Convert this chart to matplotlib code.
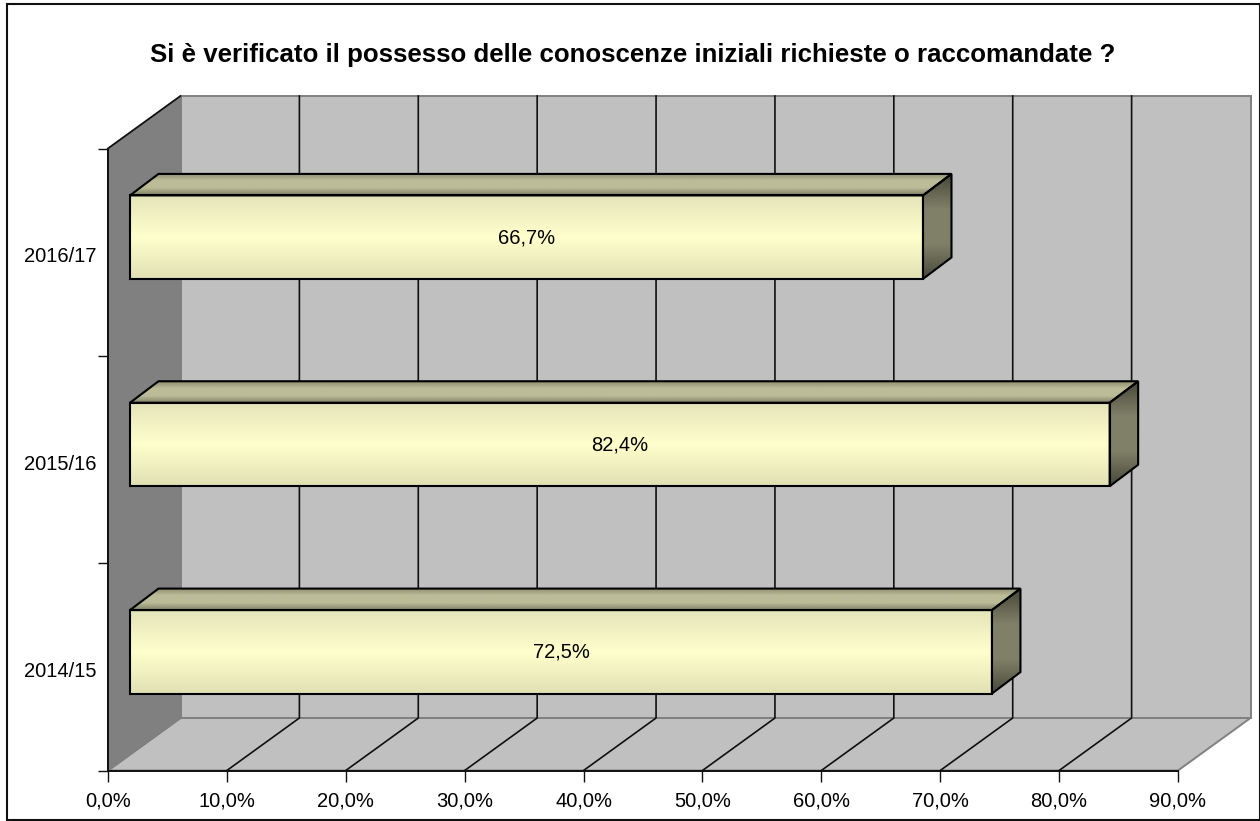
import matplotlib
matplotlib.use("Agg")
import matplotlib.pyplot as plt
from matplotlib.colors import LinearSegmentedColormap
from matplotlib.patches import Polygon, Rectangle
from matplotlib.transforms import ScaledTranslation
import numpy as np

plt.rcParams['font.family'] = ['Liberation Sans', 'DejaVu Sans']

# data
years = ['2014/15', '2015/16', '2016/17']
values = [72.5, 82.4, 66.7]
xticks = [0, 10, 20, 30, 40, 50, 60, 70, 80, 90]
title = 'Si è verificato il possesso delle conoscenze iniziali richieste o raccomandate ?'

W, H = 1260, 821
fig = plt.figure(figsize=(W / 100, H / 100), dpi=100)

# axes box = front face of the fake 3d box
ax = fig.add_axes([108 / W, (H - 770.5) / H, (1178 - 108) / W, (770.5 - 148.5) / H])
ax.set_xlim(0, 90)
ax.set_ylim(-0.5, 2.5)
ax.patch.set_visible(False)

# depth of the box and of the bars, in data units
px_x = 1070 / 90
px_y = 622 / 3
dx = 72.5 / px_x
dy = 52.5 / px_y
bar_off_x = 22 / px_x
bar_off_y = 15 / px_y
bar_dx = 28.5 / px_x
bar_dy = 21.5 / px_y
bar_h = 83.5 / px_y

# outer border
fig.add_artist(Rectangle((6.5 / W, 1 / H), 1253 / W, 816 / H, transform=fig.transFigure,
                         fill=False, ec='#101010', lw=1.5))

# walls
wall = '#c0c0c0'
ax.add_patch(Polygon([(dx, -0.5 + dy), (90 + dx, -0.5 + dy), (90 + dx, 2.5 + dy), (dx, 2.5 + dy)],
                     fc=wall, ec='#808080', lw=1.4, clip_on=False, zorder=1))
ax.add_patch(Polygon([(0, -0.5), (90, -0.5), (90 + dx, -0.5 + dy), (dx, -0.5 + dy)],
                     fc=wall, ec='#808080', lw=1.4, clip_on=False, zorder=1))
ax.add_patch(Polygon([(0, -0.5), (dx, -0.5 + dy), (dx, 2.5 + dy), (0, 2.5)],
                     fc='#808080', ec='#808080', lw=1.4, clip_on=False, zorder=1))

# gridlines on floor and back wall
for t in xticks[1:-1]:
    ax.plot([t, t + dx, t + dx], [-0.5, -0.5 + dy, 2.5 + dy], color='#101010', lw=1.2,
            clip_on=False, zorder=2)
ax.plot([0, dx], [2.5, 2.5 + dy], color='#101010', lw=1.2, clip_on=False, zorder=3)

# gradients for the bar faces
front_cm = LinearSegmentedColormap.from_list('front', ['#e0e0b4', '#ffffcc', '#e4e4ba'])
top_cm = LinearSegmentedColormap.from_list('top', ['#808068', '#bcbc98', '#bcbc98', '#8c8c70'])
side_cm = LinearSegmentedColormap.from_list('side', ['#48483a', '#808068', '#808068', '#48483a'])
grad = np.linspace(0, 1, 256).reshape(-1, 1)


def shaded(points, cmap):
    xs = [p[0] for p in points]
    ys = [p[1] for p in points]
    im = ax.imshow(grad, cmap=cmap, aspect='auto', origin='lower', zorder=4,
                   extent=[min(xs), max(xs), min(ys), max(ys)], clip_on=True)
    outline = Polygon(points, fc='none', ec='#000000', lw=1.5, joinstyle='miter',
                      clip_on=False, zorder=5)
    ax.add_patch(outline)
    im.set_clip_path(outline)


for i, v in enumerate(values):
    y0 = i - bar_h / 2 + bar_off_y
    y1 = i + bar_h / 2 + bar_off_y
    x0 = bar_off_x
    x1 = v + bar_off_x
    shaded([(x0, y1), (x1, y1), (x1 + bar_dx, y1 + bar_dy), (x0 + bar_dx, y1 + bar_dy)], top_cm)
    shaded([(x1, y0), (x1 + bar_dx, y0 + bar_dy), (x1 + bar_dx, y1 + bar_dy), (x1, y1)], side_cm)
    shaded([(x0, y0), (x1, y0), (x1, y1), (x0, y1)], front_cm)
    ax.text((x0 + x1) / 2, (y0 + y1) / 2 - 0.5 / px_y, f'{v:.1f}%'.replace('.', ','), ha='center',
            va='center', fontsize=14.5, color='black', zorder=6)

# imshow resets the limits
ax.set_xlim(0, 90)
ax.set_ylim(-0.5, 2.5)

# axes and ticks
for s in ('top', 'right'):
    ax.spines[s].set_visible(False)
for s in ('left', 'bottom'):
    ax.spines[s].set_color('#101010')
    ax.spines[s].set_linewidth(1.4)
    ax.spines[s].set_zorder(3)

ax.set_xticks(xticks)
ax.set_xticklabels([f'{t},0%' for t in xticks], fontsize=14.5)
ax.tick_params(axis='x', length=8, width=1, color='#101010', pad=7.2)
ax.set_yticks([-0.5, 0.5, 1.5, 2.5])
ax.set_yticklabels([])
ax.tick_params(axis='y', which='major', length=7.2, width=1, color='#101010')
ax.set_yticks(range(len(years)), minor=True)
ax.set_yticklabels(years, minor=True, fontsize=14.5, va='center')
ax.tick_params(axis='y', which='minor', length=0, pad=8)
# year labels sit a little below the middle of their band
shift = ScaledTranslation(0, -4.5 / 100, fig.dpi_scale_trans)
for lab in ax.get_yticklabels(minor=True):
    lab.set_transform(lab.get_transform() + shift)

fig.text(632.5 / W, (H - 55) / H, title, ha='center', va='center', fontsize=18.6, fontweight='bold')

fig.savefig('out.png', dpi=100)
